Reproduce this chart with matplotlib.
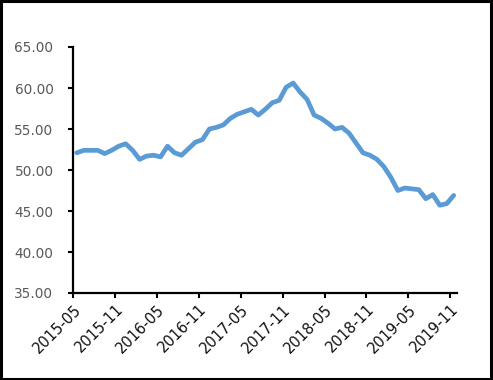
import matplotlib
matplotlib.use("Agg")
import matplotlib.pyplot as plt
import matplotlib.transforms as mtransforms
from matplotlib.patches import Rectangle

# Monthly data 2015-05 .. 2019-11
months = [f"{y}-{m:02d}" for y in range(2015, 2020) for m in range(1, 13)]
months = months[months.index("2015-05"):months.index("2019-11") + 1]

values = [52.1, 52.4, 52.4, 52.4, 52.0, 52.4, 52.9, 53.2, 52.4, 51.3,
          51.7, 51.8, 51.6, 52.9, 52.1, 51.8, 52.6, 53.4, 53.7, 55.0,
          55.2, 55.5, 56.3, 56.8, 57.1, 57.4, 56.7, 57.4, 58.2, 58.5,
          60.1, 60.6, 59.5, 58.6, 56.7, 56.3, 55.7, 55.0, 55.2, 54.5,
          53.3, 52.1, 51.8, 51.3, 50.4, 49.1, 47.5, 47.8, 47.7, 47.6,
          46.5, 47.0, 45.7, 45.9, 46.9]

y_ticks = [35, 40, 45, 50, 55, 60, 65]
x_tick_labels = months[::6]

W, H = 493, 380
fig = plt.figure(figsize=(W / 100, H / 100), dpi=100)
ax = fig.add_axes([73.3 / W, 1 - 293 / H, (457.2 - 73.3) / W, (293 - 47) / H])

xs = [i + 0.5 for i in range(len(values))]
ax.plot(xs, values, color="#5B9BD5", linewidth=3.4, solid_joinstyle="round",
        solid_capstyle="round", clip_on=False)

ax.set_xlim(0, len(values))
ax.set_ylim(35, 65)
ax.set_yticks(y_ticks)
ax.set_yticklabels([f"{v:.2f}" for v in y_ticks], fontsize=9.8, color="#595959",
                   family="DejaVu Sans")
ax.set_xticks(list(range(0, len(values), 6)))
ax.set_xticklabels(x_tick_labels, rotation=45, ha="right", va="top",
                   rotation_mode="anchor", fontsize=10.5, color="#111111",
                   family="DejaVu Sans")

shift = mtransforms.ScaledTranslation(-2 / 100, 0, fig.dpi_scale_trans)
for lbl in ax.get_xticklabels():
    lbl.set_transform(lbl.get_transform() + shift)

for s in ["top", "right"]:
    ax.spines[s].set_visible(False)
for s in ["left", "bottom"]:
    ax.spines[s].set_linewidth(1.6)
    ax.spines[s].set_color("black")

ax.tick_params(axis="both", direction="out", length=3.8, width=1.5, color="black")
ax.tick_params(axis="y", pad=10.5)
ax.tick_params(axis="x", pad=2.5)

# Figure border
fig.patches.append(Rectangle((0.002, 0.003), 0.994, 0.994, transform=fig.transFigure,
                             fill=False, edgecolor="black", linewidth=2.2))

fig.savefig("out.png", dpi=100)
